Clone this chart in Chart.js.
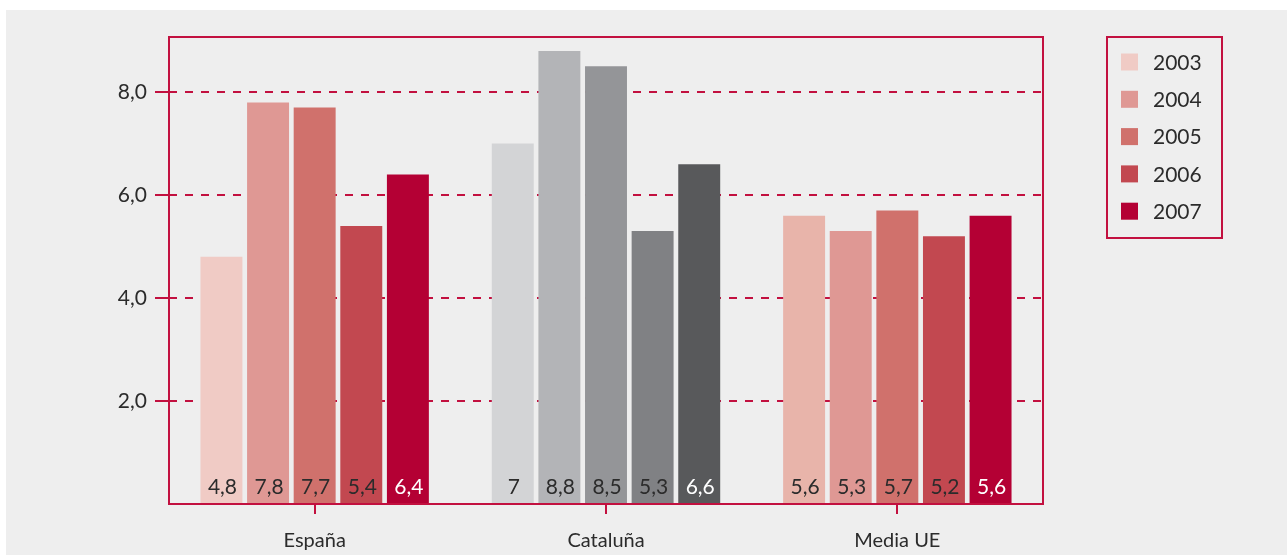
<!DOCTYPE html>
<html>
<head>
<meta charset="utf-8">
<script src="https://cdn.jsdelivr.net/npm/chart.js@4.4.1/dist/chart.umd.min.js"></script>
<style>
    html, body { margin: 0; padding: 0; background: #ffffff; }
    #wrap { position: absolute; left: 6px; top: 10px; width: 1281px; height: 545px; background: #eeeeee; }
</style>
</head>
<body>
<div id="wrap"><canvas id="chart-paro"></canvas></div>
<script>
const categories = ['España', 'Cataluña', 'Media UE'];
const years = ['2003', '2004', '2005', '2006', '2007'];
const values2003 = [4.8, 7.0, 5.6];
const values2004 = [7.8, 8.8, 5.3];
const values2005 = [7.7, 8.5, 5.7];
const values2006 = [5.4, 5.3, 5.2];
const values2007 = [6.4, 6.6, 5.6];
const yTicks = [2, 4, 6, 8];

// one colour per bar: reds for España / UE, greys for Cataluña
const colors2003 = ['#f0cbc5', '#d3d4d6', '#e8b4aa'];
const colors2004 = ['#df9894', '#b3b4b7', '#df9894'];
const colors2005 = ['#d0716c', '#949598', '#d0716c'];
const colors2006 = ['#c24850', '#808184', '#c24850'];
const colors2007 = ['#b40034', '#58595b', '#b40034'];

const crimson = '#c2103f';
const fontFamily = 'Lato, "Noto Sans", sans-serif';

const allValues = [values2003, values2004, values2005, values2006, values2007];
const allColors = [colors2003, colors2004, colors2005, colors2006, colors2007];

const graphData = {
    labels: categories,
    datasets: years.map(function (y, i) {
        return {
            label: y,
            data: allValues[i],
            backgroundColor: allColors[i],
            borderWidth: 0
        };
    })
};

function fmt(v) {
    return String(v).replace('.', ',');
}

// value written at the foot of every bar
const barLabels = {
    id: 'barLabels',
    afterDatasetsDraw(chart) {
        const ctx = chart.ctx;
        ctx.save();
        ctx.font = '21px ' + fontFamily;
        ctx.textAlign = 'center';
        ctx.textBaseline = 'middle';
        chart.data.datasets.forEach(function (ds, i) {
            const meta = chart.getDatasetMeta(i);
            meta.data.forEach(function (bar, j) {
                ctx.fillStyle = i === 4 ? '#ffffff' : '#2b2b2b';
                ctx.fillText(fmt(ds.data[j]), bar.x + 1, chart.chartArea.bottom - 17);
            });
        });
        ctx.restore();
    }
};

// frame round the plot area
const plotFrame = {
    id: 'plotFrame',
    afterDatasetsDraw(chart) {
        const a = chart.chartArea;
        const ctx = chart.ctx;
        ctx.save();
        ctx.strokeStyle = crimson;
        ctx.lineWidth = 2;
        ctx.strokeRect(a.left, a.top, a.right - a.left, a.bottom - a.top);
        ctx.restore();
    }
};

// boxed legend to the right
const boxLegend = {
    id: 'boxLegend',
    afterDraw(chart) {
        const a = chart.chartArea;
        const ctx = chart.ctx;
        const left = a.right + 64;
        const top = a.top;
        ctx.save();
        ctx.strokeStyle = crimson;
        ctx.lineWidth = 2;
        ctx.strokeRect(left, top, 115, 201);
        ctx.font = '21px ' + fontFamily;
        ctx.textBaseline = 'middle';
        ctx.textAlign = 'left';
        chart.data.datasets.forEach(function (ds, i) {
            const cy = top + 25 + i * 37.3;
            ctx.fillStyle = ds.backgroundColor[0];
            ctx.fillRect(left + 14, cy - 8.5, 17, 17);
            ctx.fillStyle = '#2b2b2b';
            ctx.fillText(ds.label, left + 46, cy + 1);
        });
        ctx.restore();
    }
};

function drawGraph(id, data) {
    const ctx = document.getElementById(id);
    return new Chart(ctx, {
        type: 'bar',
        data: data,
        plugins: [barLabels, plotFrame, boxLegend],
        options: {
            responsive: true,
            maintainAspectRatio: false,
            animation: false,
            layout: {
                padding: { top: 27, right: 244, left: 0, bottom: 0 }
            },
            datasets: {
                bar: { categoryPercentage: 0.8, barPercentage: 0.9 }
            },
            plugins: {
                legend: { display: false },
                tooltip: { enabled: false }
            },
            scales: {
                y: {
                    min: 0,
                    max: 9.07,
                    afterFit: function (scale) { scale.width = 163; },
                    afterBuildTicks: function (scale) {
                        scale.ticks = yTicks.map(function (v) { return { value: v }; });
                    },
                    ticks: {
                        padding: 8,
                        color: '#2b2b2b',
                        font: { family: fontFamily, size: 21 },
                        callback: function (value) { return value.toFixed(1).replace('.', ','); }
                    },
                    grid: {
                        color: crimson,
                        lineWidth: 2,
                        tickLength: 14,
                        tickBorderDash: []
                    },
                    border: {
                        display: false,
                        dash: [8, 8]
                    }
                },
                x: {
                    afterFit: function (scale) { scale.height = 51; },
                    ticks: {
                        padding: 15,
                        color: '#2b2b2b',
                        font: { family: fontFamily, size: 20 }
                    },
                    grid: {
                        offset: false,
                        drawOnChartArea: false,
                        color: crimson,
                        lineWidth: 2,
                        tickLength: 10
                    },
                    border: { display: false }
                }
            }
        }
    });
}

drawGraph('chart-paro', graphData);
</script>
</body>
</html>
